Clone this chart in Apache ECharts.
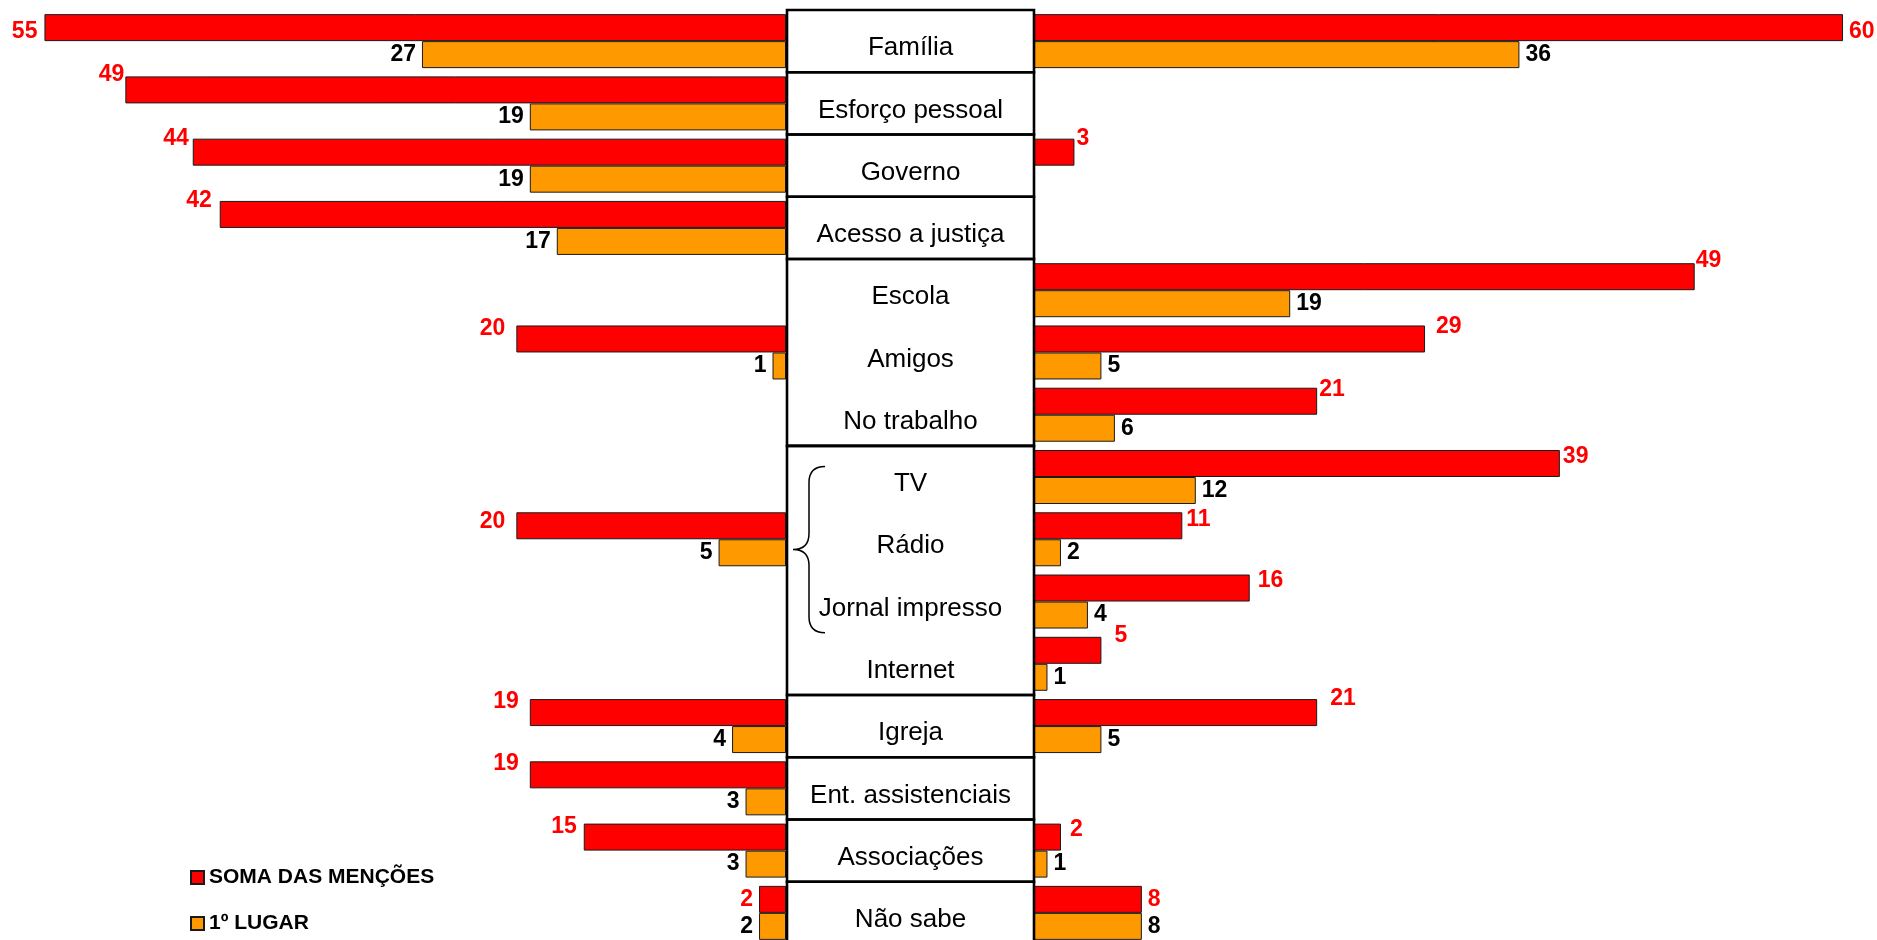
<!DOCTYPE html>
<html>
<head>
<meta charset="utf-8">
<script src="https://cdn.jsdelivr.net/npm/echarts@6/dist/echarts.min.js"></script>
<style>
html,body{margin:0;padding:0;background:#fff;}
#chart{width:1877px;height:940px;}
</style>
</head>
<body>
<div id="chart"></div>
<script>
// ---- data ----
const categories = ['Família','Esforço pessoal','Governo','Acesso a justiça','Escola','Amigos','No trabalho','TV','Rádio','Jornal impresso','Internet','Igreja','Ent. assistenciais','Associações','Não sabe'];
const seriesNames = ['SOMA DAS MENÇÕES','1º LUGAR'];
const leftSoma      = [55,49,44,42,null,20,null,null,20,null,null,19,19,15,2];
const leftPrimeiro  = [27,19,19,17,null,1,null,null,5,null,null,4,3,3,2];
const rightSoma     = [60,null,3,null,49,29,21,39,11,16,5,21,null,2,8];
const rightPrimeiro = [36,null,null,null,19,5,6,12,2,4,1,5,null,1,8];
// groups of rows boxed together in the centre column (first, last index)
const sections = [[0,0],[1,1],[2,2],[3,3],[4,6],[7,10],[11,11],[12,12],[13,13],[14,14]];
// rows spanned by the curly brace (TV .. Jornal impresso)
const braceRows = [7,9];
// label nudges [extra distance, vertical shift] for red value labels
const leftSomaNudge  = [[2,4],[-4,-15],[-1,-14],[3,-14],[0,0],[6,-10],[0,0],[0,0],[6,-4],[0,0],[0,0],[6,-11],[6,-11],[2,-10],[1,0]];
const rightSomaNudge = [[1,4],[0,0],[-3,-14],[0,0],[-4,-16],[6,-12],[-3,-12],[-2,-7],[-1,-6],[3,-7],[8,-15],[8,-14],[0,0],[4,-7],[1,0]];

const RED = '#FF0000', ORANGE = '#FF9900';
const NARROW = '"Liberation Sans Narrow","Arial Narrow","Liberation Sans",Arial,sans-serif';
const SANS = '"Liberation Sans",Arial,sans-serif';
const TOP = 10, HEIGHT = 934;

function mk(values, nudge, side) {
  return values.map((v, i) => {
    if (v === null) return '-';
    if (!nudge) return v;
    const n = nudge[i];
    return { value: v, label: { offset: [side === 'left' ? -n[0] : n[0], n[1]] } };
  });
}

const chart = echarts.init(document.getElementById('chart'));
const barCommon = {
  type: 'bar', barWidth: 27, barGap: '0%',
  emphasis: { disabled: true }
};
const lblRed = { show: true, color: RED, fontFamily: NARROW, fontWeight: 'bold', fontSize: 23, distance: 5 };
const lblBlack = { show: true, color: '#000', fontFamily: NARROW, fontWeight: 'bold', fontSize: 23, distance: 6 };
const legendText = { fontFamily: NARROW, fontWeight: 'bold', fontSize: 21, color: '#000' };
const gridCommon = { containLabel: false, outerBoundsMode: 'none' };

const option = {
  backgroundColor: '#fff',
  animation: false,
  legend: [
    { orient: 'vertical', left: 190, top: 867, padding: 0, itemWidth: 13, itemHeight: 13, icon: 'rect',
      data: [seriesNames[0]], textStyle: legendText, selectedMode: false },
    { orient: 'vertical', left: 190, top: 913, padding: 0, itemWidth: 13, itemHeight: 13, icon: 'rect',
      data: [seriesNames[1]], textStyle: legendText, selectedMode: false }
  ],
  grid: [
    Object.assign({ left: 4, width: 782, top: TOP, height: HEIGHT }, gridCommon),
    Object.assign({ left: 787, width: 247, top: TOP, height: HEIGHT }, gridCommon),
    Object.assign({ left: 1034, width: 836, top: TOP, height: HEIGHT }, gridCommon),
    Object.assign({ left: 787, width: 247, top: TOP + 7, height: HEIGHT }, gridCommon)
  ],
  xAxis: [
    { gridIndex: 0, type: 'value', min: 0, max: 58, inverse: true, show: false },
    { gridIndex: 1, type: 'value', min: 0, max: 1, show: false },
    { gridIndex: 2, type: 'value', min: 0, max: 62, show: false },
    { gridIndex: 3, type: 'value', min: 0, max: 1, show: false }
  ],
  yAxis: [
    { gridIndex: 0, type: 'category', data: categories, inverse: true, show: false },
    { gridIndex: 1, type: 'category', data: categories, inverse: true, show: false },
    { gridIndex: 2, type: 'category', data: categories, inverse: true, show: false },
    { gridIndex: 3, type: 'category', data: categories, inverse: true,
      axisLine: { show: false }, axisTick: { show: false }, splitLine: { show: false },
      axisLabel: { inside: true, margin: 123.5, align: 'center', interval: 0,
        fontFamily: SANS, fontSize: 26, color: '#000' } }
  ],
  series: [
    Object.assign({}, barCommon, { name: seriesNames[0], xAxisIndex: 0, yAxisIndex: 0, data: mk(leftSoma, leftSomaNudge, 'left'),
      itemStyle: { color: RED, borderColor: '#1a1a1a', borderWidth: 1 }, label: Object.assign({ position: 'left' }, lblRed) }),
    Object.assign({}, barCommon, { name: seriesNames[1], xAxisIndex: 0, yAxisIndex: 0, data: mk(leftPrimeiro),
      itemStyle: { color: ORANGE, borderColor: '#1a1a1a', borderWidth: 1 }, label: Object.assign({ position: 'left' }, lblBlack) }),
    Object.assign({}, barCommon, { name: seriesNames[0], xAxisIndex: 2, yAxisIndex: 2, data: mk(rightSoma, rightSomaNudge, 'right'),
      itemStyle: { color: RED, borderColor: '#1a1a1a', borderWidth: 1 }, label: Object.assign({ position: 'right' }, lblRed) }),
    Object.assign({}, barCommon, { name: seriesNames[1], xAxisIndex: 2, yAxisIndex: 2, data: mk(rightPrimeiro),
      itemStyle: { color: ORANGE, borderColor: '#1a1a1a', borderWidth: 1 }, label: Object.assign({ position: 'right' }, lblBlack) }),
    {
      type: 'custom', xAxisIndex: 1, yAxisIndex: 1, z: 10, silent: true,
      encode: { x: 0, y: 1 },
      data: sections.map(s => [0, s[0], s[1]]),
      renderItem: function (params, api) {
        const s = api.value(1), e = api.value(2);
        const band = api.size([0, 1])[1];
        const a = api.coord([0, s]);
        const b = api.coord([1, e]);
        return { type: 'rect', shape: { x: a[0], y: a[1] - band / 2, width: b[0] - a[0], height: b[1] - a[1] + band },
          style: { fill: 'none', stroke: '#000', lineWidth: 2.6 } };
      }
    },
    {
      type: 'custom', xAxisIndex: 1, yAxisIndex: 1, z: 10, silent: true,
      encode: { x: 0, y: 1 },
      data: [[0, braceRows[0], braceRows[1]]],
      renderItem: function (params, api) {
        const s = api.value(1), e = api.value(2);
        const band = api.size([0, 1])[1];
        const x0 = api.coord([0, s])[0];
        const yTop = api.coord([0, s])[1] - band / 2 + band * 0.33;
        const yBot = api.coord([0, e])[1] + band / 2;
        const yMid = (yTop + yBot) / 2;
        const xTip = x0 + 6, xLine = x0 + 22, xEnd = x0 + 38, r = 16;
        const d = 'M' + xEnd + ' ' + yTop +
          ' Q' + xLine + ' ' + yTop + ' ' + xLine + ' ' + (yTop + r) +
          ' L' + xLine + ' ' + (yMid - r) +
          ' Q' + xLine + ' ' + yMid + ' ' + xTip + ' ' + yMid +
          ' Q' + xLine + ' ' + yMid + ' ' + xLine + ' ' + (yMid + r) +
          ' L' + xLine + ' ' + (yBot - r) +
          ' Q' + xLine + ' ' + yBot + ' ' + xEnd + ' ' + yBot;
        return { type: 'path', shape: { pathData: d }, style: { fill: 'none', stroke: '#000', lineWidth: 1.5 } };
      }
    }
  ]
};
chart.setOption(option);
</script>
</body>
</html>
